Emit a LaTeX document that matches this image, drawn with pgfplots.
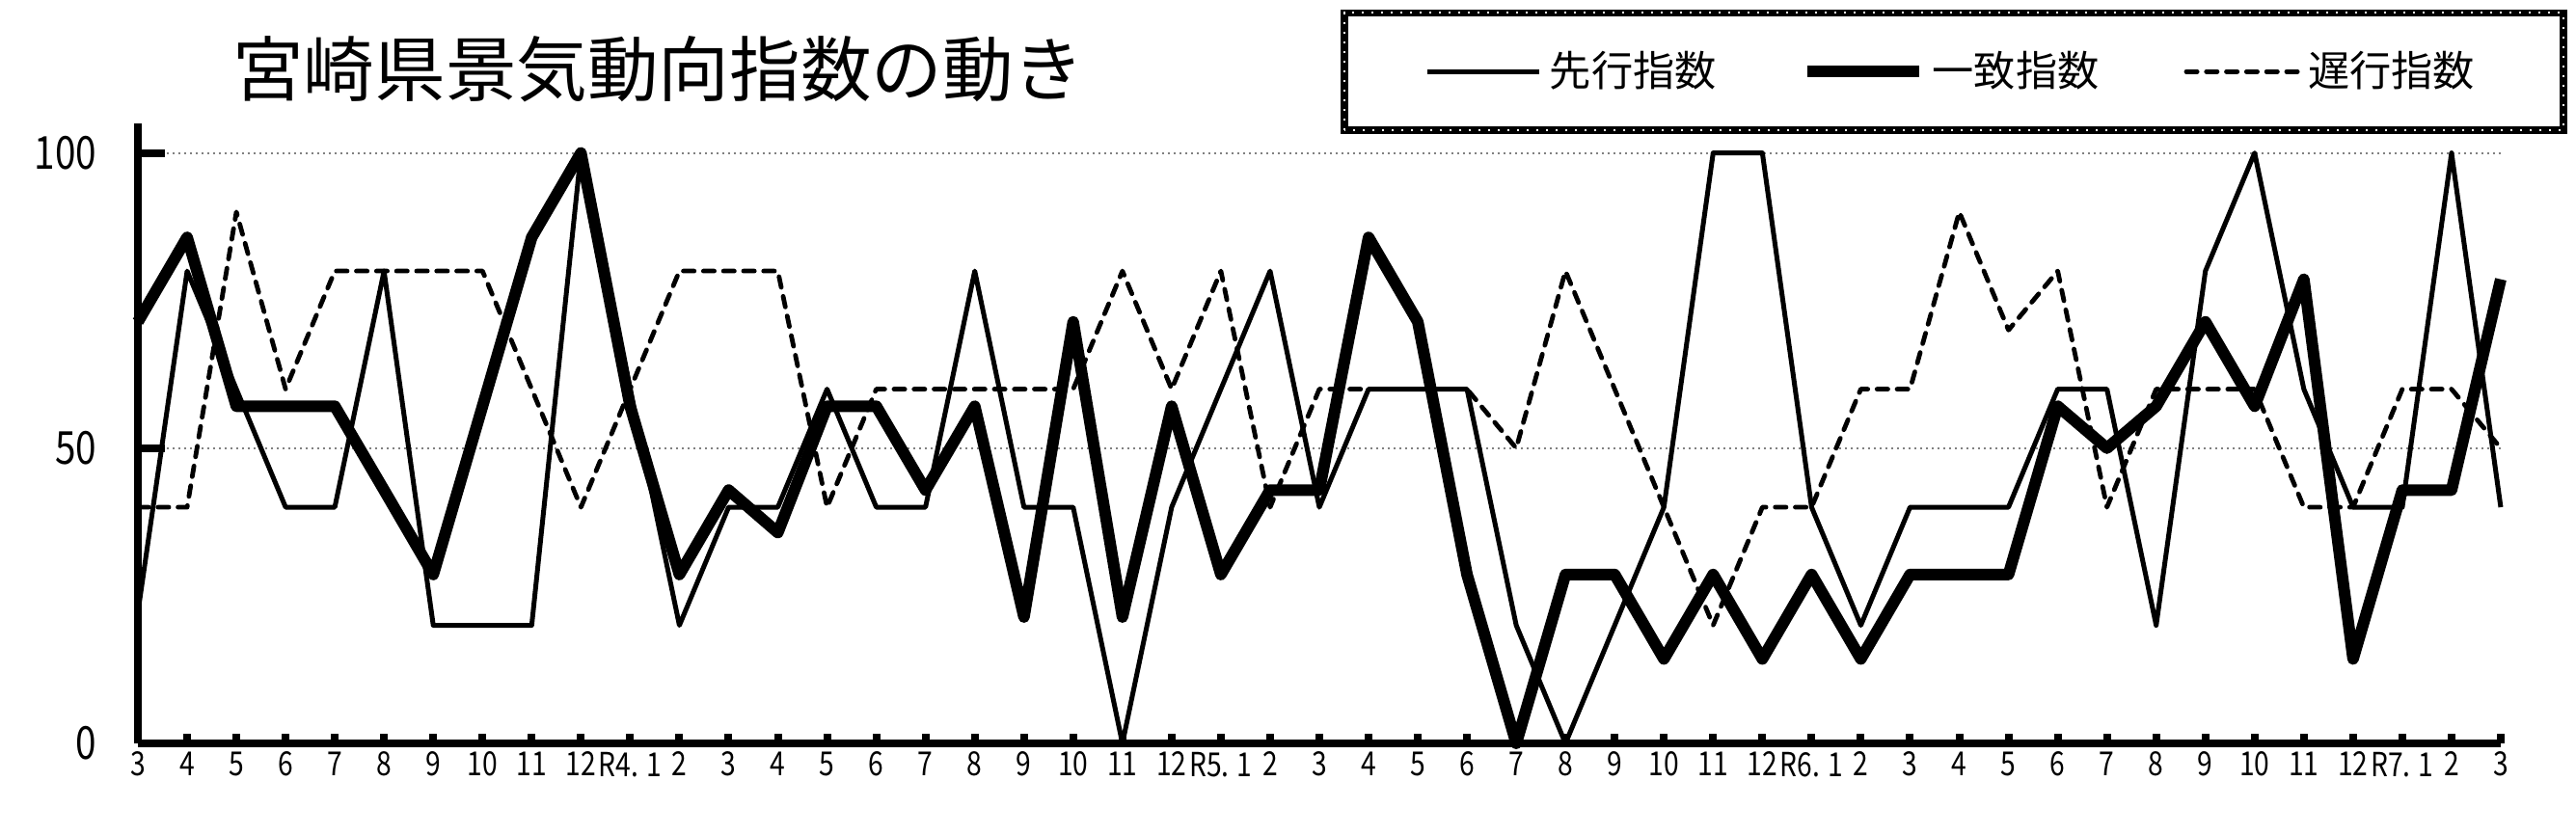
\documentclass[border=0pt]{standalone}
\usepackage{fontspec}
\setmainfont{Noto Sans CJK JP}
\newfontfamily\narrowfont[FakeStretch=0.82]{Noto Sans CJK JP}
\usepackage{pgfplots}
\pgfplotsset{compat=1.18}

% index 0 = R3.3 ... index 48 = R7.3
\pgfplotstableread{
x  sen   itchi  chi
0  22.2  71.4   40
1  80    85.7   40
2  60    57.1   90
3  40    57.1   60
4  40    57.1   80
5  80    42.9   80
6  20    28.6   80
7  20    57.1   80
8  20    85.7   60
9  100   100    40
10 60    57.1   60
11 20    28.6   80
12 40    42.9   80
13 40    35.7   80
14 60    57.1   40
15 40    57.1   60
16 40    42.9   60
17 80    57.1   60
18 40    21.4   60
19 40    71.4   60
20 0     21.4   80
21 40    57.1   60
22 60    28.6   80
23 80    42.9   40
24 40    42.9   60
25 60    85.7   60
26 60    71.4   60
27 60    28.6   60
28 20    0      50
29 0     28.6   80
30 20    28.6   60
31 40    14.3   40
32 100   28.6   20
33 100   14.3   40
34 40    28.6   40
35 20    14.3   60
36 40    28.6   60
37 40    28.6   90
38 40    28.6   70
39 60    57.1   80
40 60    50     40
41 20    57.1   60
42 80    71.4   60
43 100   57.1   60
44 60    78.6   40
45 40    14.3   40
46 40    42.9   60
47 100   42.9   60
48 40    78.6   50
}\data

\begin{document}
\begin{tikzpicture}
\useasboundingbox (-35.75pt,-23.75pt) rectangle (632pt,192.75pt);
\begin{axis}[
  at={(0,0)}, anchor=south west,
  scale only axis,
  width=612.5pt, height=160.75pt,
  xmin=0, xmax=48, ymin=0, ymax=105,
  clip=false,
  axis lines*=left,
  axis line style={line width=2pt, black},
  xtick={0,...,48},
  xticklabels={3,4,5,6,7,8,9,10,11,12,R4. 1,2,3,4,5,6,7,8,9,10,11,12,R5. 1,2,3,4,5,6,7,8,9,10,11,12,R6. 1,2,3,4,5,6,7,8,9,10,11,12,R7. 1,2,3},
  ytick={0,50,100},
  yticklabels={0,50,100},
  tick align=inside,
  xtick style={line width=2pt, black, /pgfplots/major tick length=2.4pt},
  ytick style={line width=2pt, black, /pgfplots/major tick length=7pt},
  xticklabel style={font=\narrowfont\fontsize{8.6}{9}\selectfont, inner sep=0pt, yshift=-2pt},
  yticklabel style={font=\narrowfont\fontsize{11.8}{12}\selectfont, inner sep=0pt, xshift=-10.5pt},
  ymajorgrids,
  grid style={gray, line width=0.5pt, dash pattern=on 0.6pt off 0.9pt},
  legend columns=3,
  legend style={at={(0.7686,1.0837)}, anchor=center, draw=none, fill=none,
    font=\fontsize{10.8}{12}\selectfont,
    /tikz/every odd column/.append style={column sep=0pt},
    /tikz/every even column/.append style={column sep=20pt}},
  legend image code/.code={\draw[#1] (0pt,0pt) -- (29pt,0pt);},
]
\addplot[black, line width=1.25pt, line join=round] table[x=x, y=sen] {\data};
\addlegendentry{先行指数}
\addplot[black, line width=3pt, line join=round] table[x=x, y=itchi] {\data};
\addlegendentry{一致指数}
\addplot[black, line width=1.2pt, line join=round, line cap=round, dash pattern=on 2.8pt off 2.4pt] table[x=x, y=chi] {\data};
\addlegendentry{遅行指数}
\end{axis}
\node[font=\fontsize{18.4}{20}\selectfont] at (135pt,174.75pt) {宮崎県景気動向指数の動き};
\draw[black, line width=1.9pt] (312.75pt,159pt) rectangle (628.75pt,189.4pt);
\draw[white, line width=0.5pt, dash pattern=on 0.5pt off 2pt] (312.75pt,159pt) rectangle (628.75pt,189.4pt);
\end{tikzpicture}
\end{document}
